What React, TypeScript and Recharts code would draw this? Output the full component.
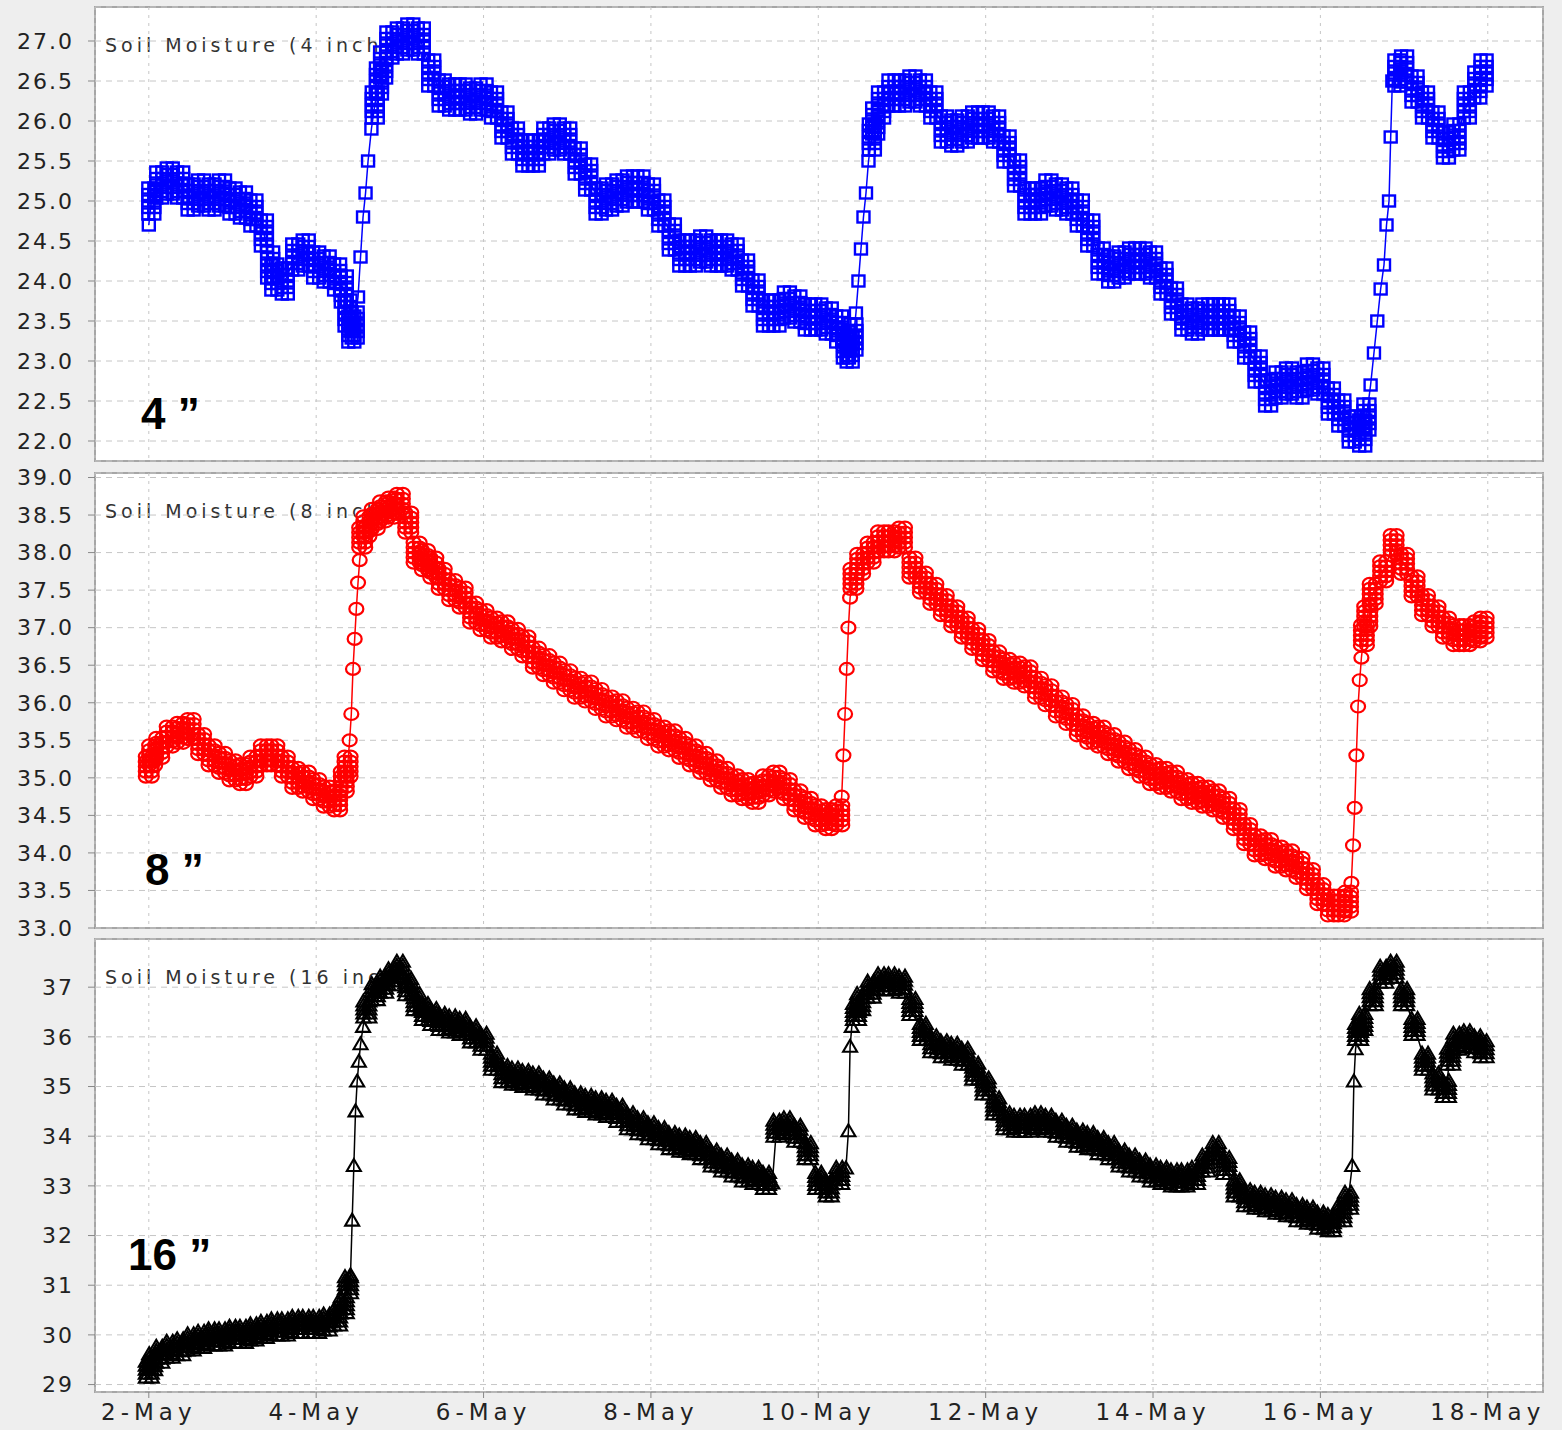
import React from "react";
import { LineChart, Line, XAxis, YAxis, CartesianGrid } from "recharts";

// ─── Data: [day of May (fractional), soil moisture %] ────────────────────────

const moisture4: [number, number][] = [
  [2.0, 24.7], [2.03, 25.0], [2.125, 25.2], [2.25, 25.25], [2.375, 25.2], [2.5, 25.05],
  [2.625, 25.1], [2.75, 25.05], [2.875, 25.1], [3.0, 25.0], [3.125, 24.95], [3.25, 24.85],
  [3.375, 24.6], [3.45, 24.2], [3.5, 24.05], [3.625, 24.0], [3.75, 24.3], [3.875, 24.35],
  [4.0, 24.2], [4.125, 24.15], [4.25, 24.05], [4.33, 23.9], [4.375, 23.6], [4.42, 23.4],
  [4.46, 23.45], [4.5, 23.8], [4.53, 24.3], [4.56, 24.8], [4.59, 25.1], [4.62, 25.5],
  [4.66, 25.9], [4.7, 26.2], [4.75, 26.5], [4.8, 26.7], [4.875, 26.95], [5.0, 27.0],
  [5.125, 27.05], [5.25, 27.0], [5.375, 26.6], [5.5, 26.35], [5.625, 26.3], [5.75, 26.3],
  [5.875, 26.25], [6.0, 26.3], [6.125, 26.2], [6.25, 25.95], [6.375, 25.75], [6.5, 25.6],
  [6.625, 25.6], [6.75, 25.75], [6.875, 25.8], [7.0, 25.75], [7.125, 25.5], [7.25, 25.3],
  [7.375, 25.0], [7.5, 25.05], [7.625, 25.1], [7.75, 25.15], [7.875, 25.15], [8.0, 25.05],
  [8.125, 24.85], [8.25, 24.55], [8.375, 24.35], [8.5, 24.35], [8.625, 24.4], [8.75, 24.35],
  [8.875, 24.35], [9.0, 24.3], [9.125, 24.1], [9.25, 23.85], [9.375, 23.6], [9.5, 23.6],
  [9.625, 23.7], [9.75, 23.65], [9.875, 23.55], [10.0, 23.55], [10.125, 23.5], [10.25, 23.4],
  [10.33, 23.2], [10.375, 23.15], [10.42, 23.3], [10.45, 23.6], [10.48, 24.0], [10.51, 24.4],
  [10.54, 24.8], [10.57, 25.1], [10.6, 25.5], [10.64, 25.8], [10.68, 26.0], [10.75, 26.2],
  [10.875, 26.35], [11.0, 26.35], [11.125, 26.4], [11.25, 26.35], [11.375, 26.2], [11.5, 25.9],
  [11.625, 25.85], [11.75, 25.9], [11.875, 25.95], [12.0, 25.95], [12.125, 25.9], [12.25, 25.65],
  [12.375, 25.35], [12.5, 25.0], [12.625, 25.0], [12.75, 25.1], [12.875, 25.05], [13.0, 25.0],
  [13.125, 24.85], [13.25, 24.6], [13.375, 24.25], [13.5, 24.15], [13.625, 24.2], [13.75, 24.25],
  [13.875, 24.25], [14.0, 24.2], [14.125, 24.0], [14.25, 23.75], [14.375, 23.55], [14.5, 23.5],
  [14.625, 23.55], [14.75, 23.55], [14.875, 23.55], [15.0, 23.4], [15.125, 23.2], [15.25, 22.9],
  [15.375, 22.6], [15.5, 22.7], [15.625, 22.75], [15.75, 22.7], [15.875, 22.8], [16.0, 22.75],
  [16.125, 22.5], [16.25, 22.35], [16.375, 22.15], [16.5, 22.1], [16.55, 22.3], [16.6, 22.7],
  [16.64, 23.1], [16.68, 23.5], [16.72, 23.9], [16.76, 24.2], [16.79, 24.7], [16.82, 25.0],
  [16.84, 25.8], [16.86, 26.5], [16.92, 26.6], [17.0, 26.65], [17.125, 26.4], [17.25, 26.2],
  [17.375, 25.95], [17.5, 25.7], [17.625, 25.8], [17.75, 26.2], [17.875, 26.45], [17.95, 26.6],
];

const moisture8: [number, number][] = [
  [2.0, 35.15], [2.04, 35.3], [2.125, 35.4], [2.25, 35.55], [2.375, 35.6], [2.5, 35.65],
  [2.625, 35.45], [2.75, 35.3], [2.875, 35.2], [3.0, 35.1], [3.125, 35.05], [3.25, 35.15],
  [3.375, 35.3], [3.5, 35.3], [3.625, 35.15], [3.75, 35.0], [3.875, 34.95], [4.0, 34.85],
  [4.125, 34.75], [4.25, 34.7], [4.33, 34.95], [4.375, 35.15], [4.4, 35.5], [4.42, 35.85],
  [4.44, 36.45], [4.46, 36.85], [4.48, 37.25], [4.5, 37.6], [4.52, 37.9], [4.55, 38.2],
  [4.6, 38.35], [4.7, 38.45], [4.8, 38.55], [4.9, 38.6], [5.0, 38.65], [5.1, 38.4],
  [5.2, 38.0], [5.3, 37.9], [5.4, 37.8], [5.5, 37.65], [5.625, 37.5], [5.75, 37.4],
  [5.875, 37.2], [6.0, 37.1], [6.125, 37.0], [6.25, 36.95], [6.375, 36.85], [6.5, 36.75],
  [6.625, 36.6], [6.75, 36.5], [6.875, 36.4], [7.0, 36.3], [7.125, 36.2], [7.25, 36.15],
  [7.375, 36.05], [7.5, 35.95], [7.625, 35.9], [7.75, 35.8], [7.875, 35.75], [8.0, 35.65],
  [8.125, 35.55], [8.25, 35.5], [8.375, 35.4], [8.5, 35.3], [8.625, 35.2], [8.75, 35.1],
  [8.875, 35.0], [9.0, 34.9], [9.125, 34.85], [9.25, 34.8], [9.375, 34.9], [9.5, 34.95],
  [9.625, 34.85], [9.75, 34.7], [9.875, 34.6], [10.0, 34.5], [10.125, 34.45], [10.25, 34.5],
  [10.28, 34.75], [10.3, 35.3], [10.32, 35.85], [10.34, 36.45], [10.36, 37.0], [10.38, 37.4],
  [10.42, 37.65], [10.5, 37.85], [10.625, 38.0], [10.75, 38.15], [10.875, 38.15], [11.0, 38.2],
  [11.125, 37.8], [11.25, 37.6], [11.375, 37.45], [11.5, 37.3], [11.625, 37.15], [11.75, 37.0],
  [11.875, 36.85], [12.0, 36.7], [12.125, 36.55], [12.25, 36.45], [12.375, 36.4], [12.5, 36.35],
  [12.625, 36.2], [12.75, 36.1], [12.875, 35.95], [13.0, 35.85], [13.125, 35.7], [13.25, 35.6],
  [13.375, 35.55], [13.5, 35.45], [13.625, 35.35], [13.75, 35.25], [13.875, 35.15], [14.0, 35.05],
  [14.125, 35.0], [14.25, 34.95], [14.375, 34.85], [14.5, 34.8], [14.625, 34.75], [14.75, 34.7],
  [14.875, 34.6], [15.0, 34.45], [15.125, 34.25], [15.25, 34.1], [15.375, 34.05], [15.5, 33.95],
  [15.625, 33.9], [15.75, 33.8], [15.875, 33.65], [16.0, 33.45], [16.125, 33.3], [16.25, 33.3],
  [16.33, 33.35], [16.37, 33.6], [16.39, 34.1], [16.41, 34.6], [16.43, 35.3], [16.45, 35.95],
  [16.47, 36.3], [16.49, 36.6], [16.52, 36.9], [16.56, 37.15], [16.625, 37.45], [16.75, 37.75],
  [16.875, 38.1], [17.0, 37.85], [17.125, 37.55], [17.25, 37.3], [17.375, 37.15], [17.5, 37.0],
  [17.625, 36.9], [17.75, 36.9], [17.875, 36.95], [17.95, 37.0],
];

const moisture16: [number, number][] = [
  [2.0, 29.3], [2.04, 29.45], [2.125, 29.6], [2.25, 29.7], [2.375, 29.75], [2.5, 29.85],
  [2.625, 29.9], [2.75, 29.95], [2.875, 29.95], [3.0, 30.0], [3.125, 30.0], [3.25, 30.05],
  [3.375, 30.1], [3.5, 30.15], [3.625, 30.15], [3.75, 30.2], [3.875, 30.2], [4.0, 30.2],
  [4.125, 30.25], [4.25, 30.35], [4.33, 30.6], [4.38, 31.0], [4.41, 31.2], [4.43, 32.3],
  [4.45, 33.4], [4.47, 34.5], [4.49, 35.1], [4.51, 35.5], [4.53, 35.85], [4.56, 36.2],
  [4.6, 36.55], [4.7, 36.9], [4.8, 37.05], [4.9, 37.2], [5.0, 37.35], [5.1, 37.0],
  [5.2, 36.7], [5.3, 36.5], [5.4, 36.4], [5.5, 36.3], [5.625, 36.25], [5.75, 36.2],
  [5.875, 36.05], [6.0, 35.9], [6.125, 35.5], [6.25, 35.25], [6.375, 35.2], [6.5, 35.15],
  [6.625, 35.1], [6.75, 35.0], [6.875, 34.9], [7.0, 34.8], [7.125, 34.7], [7.25, 34.65],
  [7.375, 34.6], [7.5, 34.55], [7.625, 34.45], [7.75, 34.3], [7.875, 34.2], [8.0, 34.1],
  [8.125, 34.0], [8.25, 33.9], [8.375, 33.85], [8.5, 33.8], [8.625, 33.7], [8.75, 33.55],
  [8.875, 33.45], [9.0, 33.35], [9.125, 33.25], [9.25, 33.2], [9.375, 33.1], [9.45, 33.05],
  [9.5, 34.15], [9.625, 34.2], [9.75, 34.05], [9.875, 33.7], [10.0, 33.1], [10.125, 32.95],
  [10.25, 33.2], [10.33, 33.35], [10.36, 34.1], [10.38, 35.8], [10.4, 36.2], [10.45, 36.5],
  [10.5, 36.7], [10.625, 36.95], [10.75, 37.1], [10.875, 37.1], [11.0, 37.05], [11.125, 36.6],
  [11.25, 36.1], [11.375, 35.85], [11.5, 35.75], [11.625, 35.7], [11.75, 35.6], [11.875, 35.3],
  [12.0, 35.0], [12.125, 34.6], [12.25, 34.3], [12.375, 34.25], [12.5, 34.25], [12.625, 34.3],
  [12.75, 34.25], [12.875, 34.15], [13.0, 34.05], [13.125, 33.95], [13.25, 33.9], [13.375, 33.8],
  [13.5, 33.7], [13.625, 33.55], [13.75, 33.45], [13.875, 33.35], [14.0, 33.25], [14.125, 33.2],
  [14.25, 33.15], [14.375, 33.15], [14.5, 33.2], [14.625, 33.45], [14.75, 33.7], [14.875, 33.4],
  [15.0, 32.95], [15.125, 32.75], [15.25, 32.7], [15.375, 32.65], [15.5, 32.6], [15.625, 32.55],
  [15.75, 32.45], [15.875, 32.4], [16.0, 32.3], [16.125, 32.25], [16.25, 32.45], [16.33, 32.7],
  [16.38, 33.4], [16.4, 35.1], [16.42, 35.75], [16.45, 36.1], [16.5, 36.3], [16.625, 36.8],
  [16.75, 37.25], [16.875, 37.35], [17.0, 36.8], [17.125, 36.2], [17.25, 35.5], [17.375, 35.1],
  [17.5, 34.95], [17.55, 35.6], [17.625, 35.9], [17.75, 35.95], [17.875, 35.85], [17.95, 35.75],
];

const dayTicks = [2, 4, 6, 8, 10, 12, 14, 16, 18];
const ticks4 = [22.0, 22.5, 23.0, 23.5, 24.0, 24.5, 25.0, 25.5, 26.0, 26.5, 27.0];
const ticks8 = [33.0, 33.5, 34.0, 34.5, 35.0, 35.5, 36.0, 36.5, 37.0, 37.5, 38.0, 38.5, 39.0];
const ticks16 = [29, 30, 31, 32, 33, 34, 35, 36, 37];

// ─── Layout ───────────────────────────────────────────────────────────────────

const WIDTH = 1562;
const HEIGHT = 1430;
const PLOT_LEFT = 95;
const PLOT_RIGHT = 1543;
const X_DOMAIN: [number, number] = [1.357, 18.66];
const FONT = "'DejaVu Sans', sans-serif";
const PAD = 16; // room above/below each plot for edge tick labels
const X_AXIS_HEIGHT = 38;
const JITTER_X = [-3, 3]; // horizontal scatter of overlapping readings (px)

type Shape = "square" | "circle" | "triangle";

// one marker glyph
function glyph(shape: Shape, cx: number, cy: number, color: string, key: string) {
  if (shape === "square") {
    return <rect key={key} x={cx - 6} y={cy - 5.5} width={12} height={11} fill="none" stroke={color} strokeWidth={2.4} />;
  }
  if (shape === "circle") {
    return <ellipse key={key} cx={cx} cy={cy} rx={7} ry={6} fill="none" stroke={color} strokeWidth={2.2} />;
  }
  return (
    <polygon
      key={key}
      points={`${cx},${cy - 7} ${cx - 7},${cy + 5} ${cx + 7},${cy + 5}`}
      fill="none"
      stroke={color}
      strokeWidth={2.1}
    />
  );
}

interface PanelConfig {
  title: string;
  depthLabel: string;
  data: [number, number][];
  color: string;
  shape: Shape;
  // vertical spread (px) of the overlapping readings drawn at each sample
  spread: number[];
  top: number;
  bottom: number;
  domain: [number, number];
  ticks: number[];
  tickFmt: (v: number) => string;
  labelLeft: number;
  labelBaseline: number;
}

const panels: PanelConfig[] = [
  {
    title: "Soil Moisture (4 inch)",
    depthLabel: "4 ”",
    data: moisture4,
    color: "#0000ff",
    shape: "square",
    spread: [-13, -6.5, 0, 6.5, 13],
    top: 7,
    bottom: 461,
    domain: [21.75, 27.425],
    ticks: ticks4,
    tickFmt: (v) => v.toFixed(1),
    labelLeft: 141,
    labelBaseline: 429,
  },
  {
    title: "Soil Moisture (8 inch)",
    depthLabel: "8 ”",
    data: moisture8,
    color: "#ff0000",
    shape: "circle",
    spread: [-10, -5, 0, 5, 10],
    top: 473,
    bottom: 928,
    domain: [33.0, 39.06],
    ticks: ticks8,
    tickFmt: (v) => v.toFixed(1),
    labelLeft: 145,
    labelBaseline: 885,
  },
  {
    title: "Soil Moisture (16 inch)",
    depthLabel: "16 ”",
    data: moisture16,
    color: "#000000",
    shape: "triangle",
    spread: [-8, -4, 0, 4, 8],
    top: 939,
    bottom: 1392,
    domain: [28.85, 37.97],
    ticks: ticks16,
    tickFmt: (v) => String(v),
    labelLeft: 128,
    labelBaseline: 1270,
  },
];

// rate of change (value per day) around sample i; steep jumps get a single marker
function steepness(data: [number, number][], i: number) {
  const a = data[Math.max(0, i - 1)];
  const b = data[Math.min(data.length - 1, i + 1)];
  return Math.abs(b[1] - a[1]) / Math.max(1e-6, b[0] - a[0]);
}

function Panel({ p, last }: { p: PanelConfig; last: boolean }) {
  const h = p.bottom - p.top;
  const rows = p.data.map(([d, v]) => ({ d, v }));

  const renderDot = (props: { cx?: number; cy?: number; index?: number }) => {
    const { cx, cy, index = 0 } = props;
    if (cx == null || cy == null) return <g key={`dot-${index}`} />;
    const steep = steepness(p.data, index) > 8;
    const dys = steep ? [0] : p.spread;
    const dxs = steep ? [0] : JITTER_X;
    return (
      <g key={`dot-${index}`}>
        {dxs.map((dx) => dys.map((dy) => glyph(p.shape, cx + dx, cy + dy, p.color, `${index}-${dx}-${dy}`)))}
      </g>
    );
  };

  return (
    <>
      <div
        style={{
          position: "absolute",
          left: PLOT_LEFT - 1,
          top: p.top - 1,
          width: PLOT_RIGHT - PLOT_LEFT + 2,
          height: h + 2,
          boxSizing: "border-box",
          border: "2px solid #a6a6a6",
          background: "#ffffff",
        }}
      />
      <div
        style={{
          position: "absolute",
          left: 105,
          top: p.top + 28,
          fontFamily: FONT,
          fontSize: 19,
          lineHeight: "20px",
          letterSpacing: 4,
          color: "#333",
          whiteSpace: "nowrap",
        }}
      >
        {p.title}
      </div>
      <div style={{ position: "absolute", left: 0, top: p.top - PAD, fontFamily: FONT, letterSpacing: 2 }}>
        <LineChart
          width={WIDTH}
          height={h + PAD * 2 + (last ? X_AXIS_HEIGHT - PAD : 0)}
          data={rows}
          margin={{ top: PAD, right: WIDTH - PLOT_RIGHT, bottom: last ? 0 : PAD, left: 0 }}
        >
          <CartesianGrid vertical={false} stroke="#c6c6c6" strokeDasharray="6 5" />
          <CartesianGrid horizontal={false} stroke="#c6c6c6" strokeDasharray="3 5" />
          <XAxis
            dataKey="d"
            type="number"
            domain={X_DOMAIN}
            ticks={dayTicks}
            allowDataOverflow
            hide={!last}
            height={last ? X_AXIS_HEIGHT : 0}
            interval={0}
            axisLine={false}
            tickLine={{ stroke: "#888" }}
            tickSize={6}
            tickMargin={6}
            tick={{ fontSize: 23, fill: "#222", letterSpacing: 5 }}
            tickFormatter={(v: number) => `${v}-May`}
          />
          <YAxis
            type="number"
            domain={p.domain}
            ticks={p.ticks}
            allowDataOverflow
            interval={0}
            width={PLOT_LEFT}
            axisLine={false}
            tickLine={{ stroke: "#888" }}
            tickSize={7}
            tickMargin={14}
            tick={{ fontSize: 22, fill: "#222" }}
            tickFormatter={p.tickFmt}
          />
          <Line
            dataKey="v"
            type="linear"
            stroke={p.color}
            strokeWidth={1.5}
            isAnimationActive={false}
            dot={renderDot}
            activeDot={false}
          />
        </LineChart>
      </div>
      <div
        style={{
          position: "absolute",
          left: p.labelLeft,
          top: p.labelBaseline - 37,
          fontFamily: "'Liberation Sans', Arial, sans-serif",
          fontWeight: "bold",
          fontSize: 44,
          lineHeight: "44px",
          color: "#000",
          whiteSpace: "nowrap",
        }}
      >
        {p.depthLabel}
      </div>
    </>
  );
}

export default function App() {
  return (
    <div style={{ position: "relative", width: WIDTH, height: HEIGHT, background: "#eeeeee", overflow: "hidden" }}>
      <style>{"body{margin:0}"}</style>
      {panels.map((p, i) => (
        <Panel key={p.title} p={p} last={i === panels.length - 1} />
      ))}
    </div>
  );
}
